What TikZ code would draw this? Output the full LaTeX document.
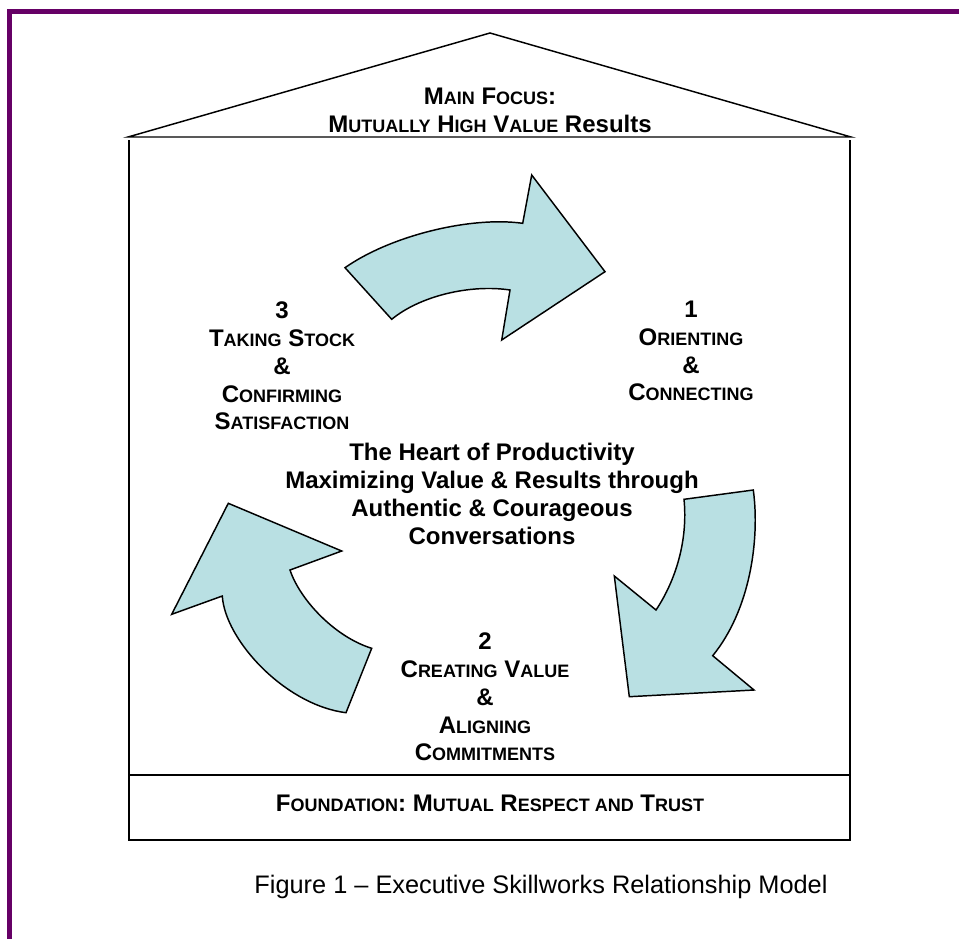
\documentclass[tikz,border=0pt]{standalone}
\usepackage{fontspec}
\setmainfont{Liberation Sans}
\definecolor{framepurple}{HTML}{660066}
\definecolor{arrowteal}{HTML}{B9E0E3}
\newcommand\sm[1]{{\fontsize{13.5}{20.8}\selectfont #1}}
\begin{document}
\begin{tikzpicture}[x=0.75pt,y=-0.75pt,
  houseline/.style={draw=black,line width=1.1pt,line join=miter},
  bigarrow/.style={fill=arrowteal,draw=black,line width=1.1pt,line join=miter},
  lbl/.style={font=\fontsize{18}{20.8}\selectfont\bfseries,align=center,inner sep=0pt},
  caption/.style={font=\fontsize{19}{22}\selectfont,inner sep=0pt}]
\useasboundingbox (0,0) rectangle (959,939);
\fill[white] (0,0) rectangle (959,939);
% purple page frame
\fill[framepurple] (7,9) rectangle (959,14);
\fill[framepurple] (7,9) rectangle (12,939);
% house
\coordinate (roofL) at (128,137);
\coordinate (apex) at (490,33);
\coordinate (roofR) at (851,137);
\coordinate (wallTL) at (129,140);
\coordinate (wallTR) at (850,140);
\coordinate (wallBL) at (129,840);
\coordinate (wallBR) at (850,840);
\coordinate (fndL) at (129,775);
\coordinate (fndR) at (850,775);
\draw[houseline] (roofL) -- (apex) -- (roofR) -- cycle;
\draw[houseline] (wallTL) -- (wallBL) -- (wallBR) -- (wallTR);
\draw[houseline] (fndL) -- (fndR);
% top arrow (3 -> 1)
\draw[bigarrow] (345,267.7) -- (391.7,319.3)
  .. controls (420,296) and (470,284) .. (510,290)
  -- (501.7,340) -- (605,271.7) -- (531.7,175) -- (522.7,223.3)
  .. controls (470,216) and (390,236) .. (345,267.7)
  -- cycle;
% right arrow (1 -> 2)
\draw[bigarrow] (684,499.3) -- (753.3,490)
  .. controls (760,540) and (750,610) .. (712.7,655.7)
  -- (754,690) -- (629.3,696.7) -- (614.3,576) -- (656,610)
  .. controls (676,580) and (688,540) .. (684,499.3)
  -- cycle;
% left arrow (2 -> 3)
\draw[bigarrow] (228.3,503.3) -- (341.7,551) -- (290,570)
  .. controls (300,600) and (335,637) .. (371.7,648.3)
  -- (346,712.7)
  .. controls (285,705) and (225,640) .. (222.3,596)
  -- (171.7,614.3) -- cycle;
% texts
\node[lbl] (roof) at (490,110) {M\sm{AIN} F\sm{OCUS}:\\M\sm{UTUALLY} H\sm{IGH} V\sm{ALUE} Results};
\node[lbl] (three) at (282,366) {3\\T\sm{AKING} S\sm{TOCK}\\\&\\C\sm{ONFIRMING}\\S\sm{ATISFACTION}};
\node[lbl] (one) at (691,351) {1\\O\sm{RIENTING}\\\&\\C\sm{ONNECTING}};
\node[lbl] (heart) at (492,494) {The Heart of Productivity\\Maximizing Value \& Results through\\Authentic \& Courageous\\Conversations};
\node[lbl] (two) at (485,697) {2\\C\sm{REATING} V\sm{ALUE}\\\&\\A\sm{LIGNING}\\C\sm{OMMITMENTS}};
\node[lbl] (found) at (490,803) {F\sm{OUNDATION}: M\sm{UTUAL} R\sm{ESPECT AND} T\sm{RUST}};
\node[caption] (cap) at (541,887) {Figure 1 -- Executive Skillworks Relationship Model};
\end{tikzpicture}
\end{document}
